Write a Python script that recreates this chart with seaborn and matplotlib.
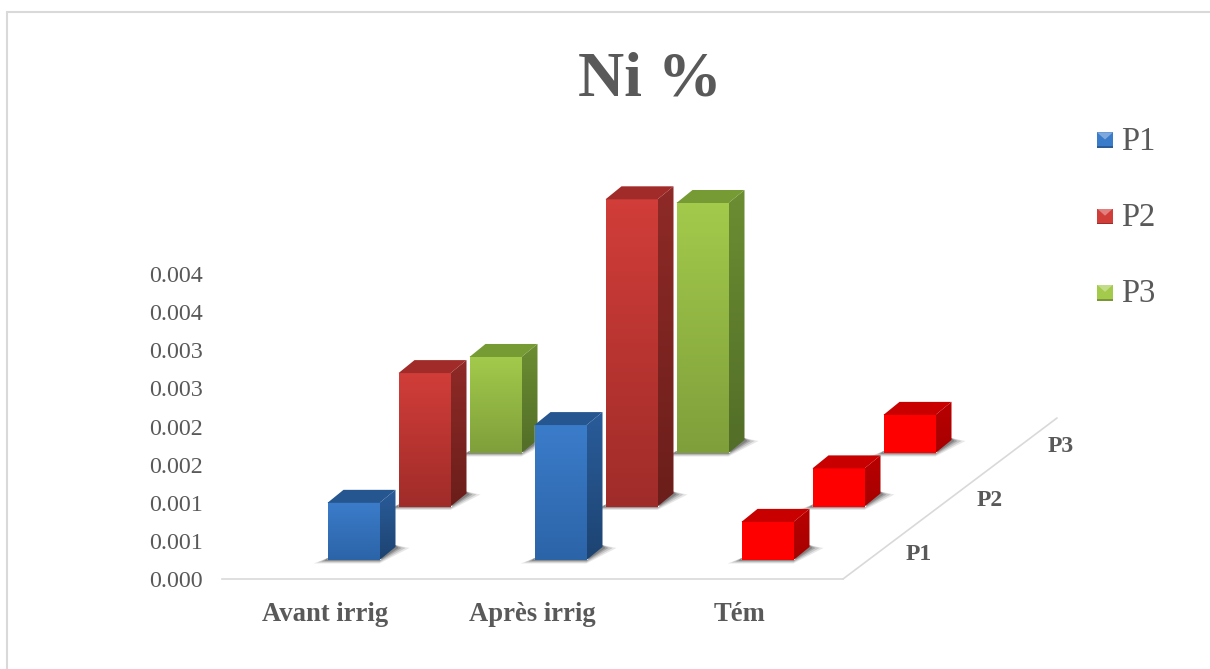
import numpy as np
import matplotlib
matplotlib.use("Agg")
import matplotlib.pyplot as plt
import seaborn as sns
from matplotlib.colors import LinearSegmentedColormap
from matplotlib.lines import Line2D
from matplotlib.legend_handler import HandlerBase
from matplotlib.patches import Patch, Polygon, Rectangle

categories = ["Avant irrig", "Après irrig", "Tém"]
series = ["P1", "P2", "P3"]
p1_values = [0.00075, 0.00177, 0.0005]
p2_values = [0.00175, 0.00403, 0.0005]
p3_values = [0.00126, 0.00328, 0.0005]
y_ticks = [0, 0.0005, 0.001, 0.0015, 0.002, 0.0025, 0.003, 0.0035, 0.004]
y_tick_labels = ["0.000", "0.001", "0.001", "0.002", "0.002", "0.003", "0.003", "0.004", "0.004"]

# front top, front bottom, side top, side bottom, roof
blue = ["#3b7cca", "#2c64a8", "#2a5c9a", "#1d4472", "#265690"]
red = ["#d13d39", "#a02c29", "#8e2a27", "#6b1e1b", "#a02b28"]
green = ["#a3ca4b", "#7f9f3b", "#6c8d32", "#526e28", "#769b35"]
flat = ["#ff0000", "#ff0000", "#b80000", "#a80000", "#c80000"]
grey = "#595959"

W, H = 1210, 669
BASE_X, BASE_Y = 222, 579
AX_W, AX_H = 621, 343
PX_X = 3 / AX_W
PX_Y = 0.0045 / AX_H

sns.set_theme(style="white")
plt.rcParams["font.family"] = ["Liberation Serif", "DejaVu Serif"]

fig = plt.figure(figsize=(W / 100, H / 100), dpi=100, facecolor="white")


def fx(x):
    return x / W


def fy(y):
    return 1 - y / H


def make_axes(dx, dy, z):
    ax = fig.add_axes([fx(BASE_X + dx), fy(BASE_Y - dy), AX_W / W, AX_H / H], zorder=z)
    ax.patch.set_alpha(0)
    return ax


def draw_layer(ax, values, colors):
    df_cols = [colors, colors, flat]
    sns.barplot(x=categories, y=values, hue=categories, palette=[c[0] for c in df_cols],
                width=52 / 207, saturation=1, legend=False, ax=ax)
    ax.set_xlim(-0.5, 2.5)
    ax.set_ylim(0, 0.0045)
    ax.axis("off")
    side_x, side_y = 16 * PX_X, 13 * PX_Y
    for bar, c in zip(ax.patches, df_cols):
        x0, x1, h = bar.get_x(), bar.get_x() + bar.get_width(), bar.get_height()
        # floor shadow
        for grow, alpha in [(14, 0.12), (10, 0.18), (6, 0.26), (3, 0.32)]:
            ax.add_patch(Polygon([(x0 - grow * PX_X, -(grow * 0.25) * PX_Y), (x1, -(grow * 0.25) * PX_Y),
                                  (x1 + side_x + grow * PX_X, side_y - 1 * PX_Y),
                                  (x1 + side_x, side_y + 2 * PX_Y), (x1, 2 * PX_Y), (x0, 2 * PX_Y)],
                                 fc="#404040", ec="none", alpha=alpha, zorder=0.5, clip_on=False))
        # gradient front and side faces
        grad = np.linspace(0, 1, 64).reshape(-1, 1)
        front = ax.imshow(grad, extent=[x0, x1, 0, h], aspect="auto", zorder=3,
                          cmap=LinearSegmentedColormap.from_list("f", [c[0], c[1]]))
        front.set_clip_on(False)
        side = ax.imshow(grad, extent=[x1, x1 + side_x, 0, h + side_y], aspect="auto", zorder=3,
                         cmap=LinearSegmentedColormap.from_list("s", [c[2], c[3]]))
        clip = Polygon([(x1, 0), (x1 + side_x, side_y), (x1 + side_x, h + side_y), (x1, h)],
                       transform=ax.transData, fc="none", ec="none")
        side.set_clip_path(clip)
        ax.add_patch(Polygon([(x0, h), (x0 + side_x, h + side_y), (x1 + side_x, h + side_y), (x1, h)],
                             fc=c[4], ec="none", zorder=3, clip_on=False))
    ax.set_xlim(-0.5, 2.5)
    ax.set_ylim(0, 0.0045)


class BevelHandler(HandlerBase):
    def create_artists(self, legend, orig, xd, yd, width, height, fontsize, trans):
        y0 = height / 2 - width / 2
        base = Rectangle((0, y0), width, width, fc=orig.get_facecolor(), ec="none", transform=trans)
        roof = Polygon([(0, y0 + width), (width, y0 + width), (width / 2, y0 + width * 0.55)],
                       fc="white", alpha=0.35, ec="none", transform=trans)
        low = Rectangle((0, y0), width, width * 0.12, fc="black", alpha=0.25, ec="none", transform=trans)
        return [base, roof, low]


# base axes holds the value scale, the category names and the floor
base = make_axes(0, 0, 1)
base.set_xlim(-0.5, 2.5)
base.set_ylim(0, 0.0045)
base.set_xticks(range(3))
base.set_xticklabels(categories, fontsize=19.2, fontweight="bold", color=grey)
base.set_yticks(y_ticks)
base.set_yticklabels(y_tick_labels, fontsize=17.3, color=grey)
base.tick_params(axis="x", length=0, pad=16.5)
base.tick_params(axis="y", length=0, pad=13.5)
sns.despine(ax=base, left=True)
base.spines["bottom"].set_color("#d9d9d9")
base.spines["bottom"].set_linewidth(1.2)

fig.add_artist(Line2D([fx(843), fx(1057)], [fy(579), fy(418)], color="#d9d9d9", lw=1.2))

# one transparent axes per series, pushed back along the floor
layers = [(p3_values, green, 2, 2), (p2_values, red, 1, 3), (p1_values, blue, 0, 4)]
for values, colors, depth, z in layers:
    draw_layer(make_axes(28 + 71 * depth, 19 + 53.5 * depth, z), values, colors)

for name, x, y in zip(series, [919, 990, 1061], [554, 501, 447]):
    fig.text(fx(x), fy(y), name, fontsize=17, fontweight="bold", color=grey, ha="center", va="center")

fig.text(fx(650), fy(80), "Ni %", fontsize=46, fontweight="bold", color=grey, ha="center", va="center")

handles = [Patch(fc=blue[0]), Patch(fc=red[0]), Patch(fc=green[0])]
leg = fig.legend(handles, series, loc="upper left", bbox_to_anchor=(fx(1097), fy(126)),
                 bbox_transform=fig.transFigure, frameon=False, fontsize=23.5, labelcolor=grey,
                 handlelength=0.49, handleheight=0.49, handletextpad=0.25, labelspacing=1.4,
                 borderpad=0, borderaxespad=0,
                 handler_map={Patch: BevelHandler()})

# chart frame
fig.add_artist(Line2D([fx(7), fx(7)], [0, fy(12)], color="#d9d9d9", lw=1.5))
fig.add_artist(Line2D([fx(7), 1], [fy(12), fy(12)], color="#d9d9d9", lw=1.5))

fig.savefig("out.png", dpi=100)
